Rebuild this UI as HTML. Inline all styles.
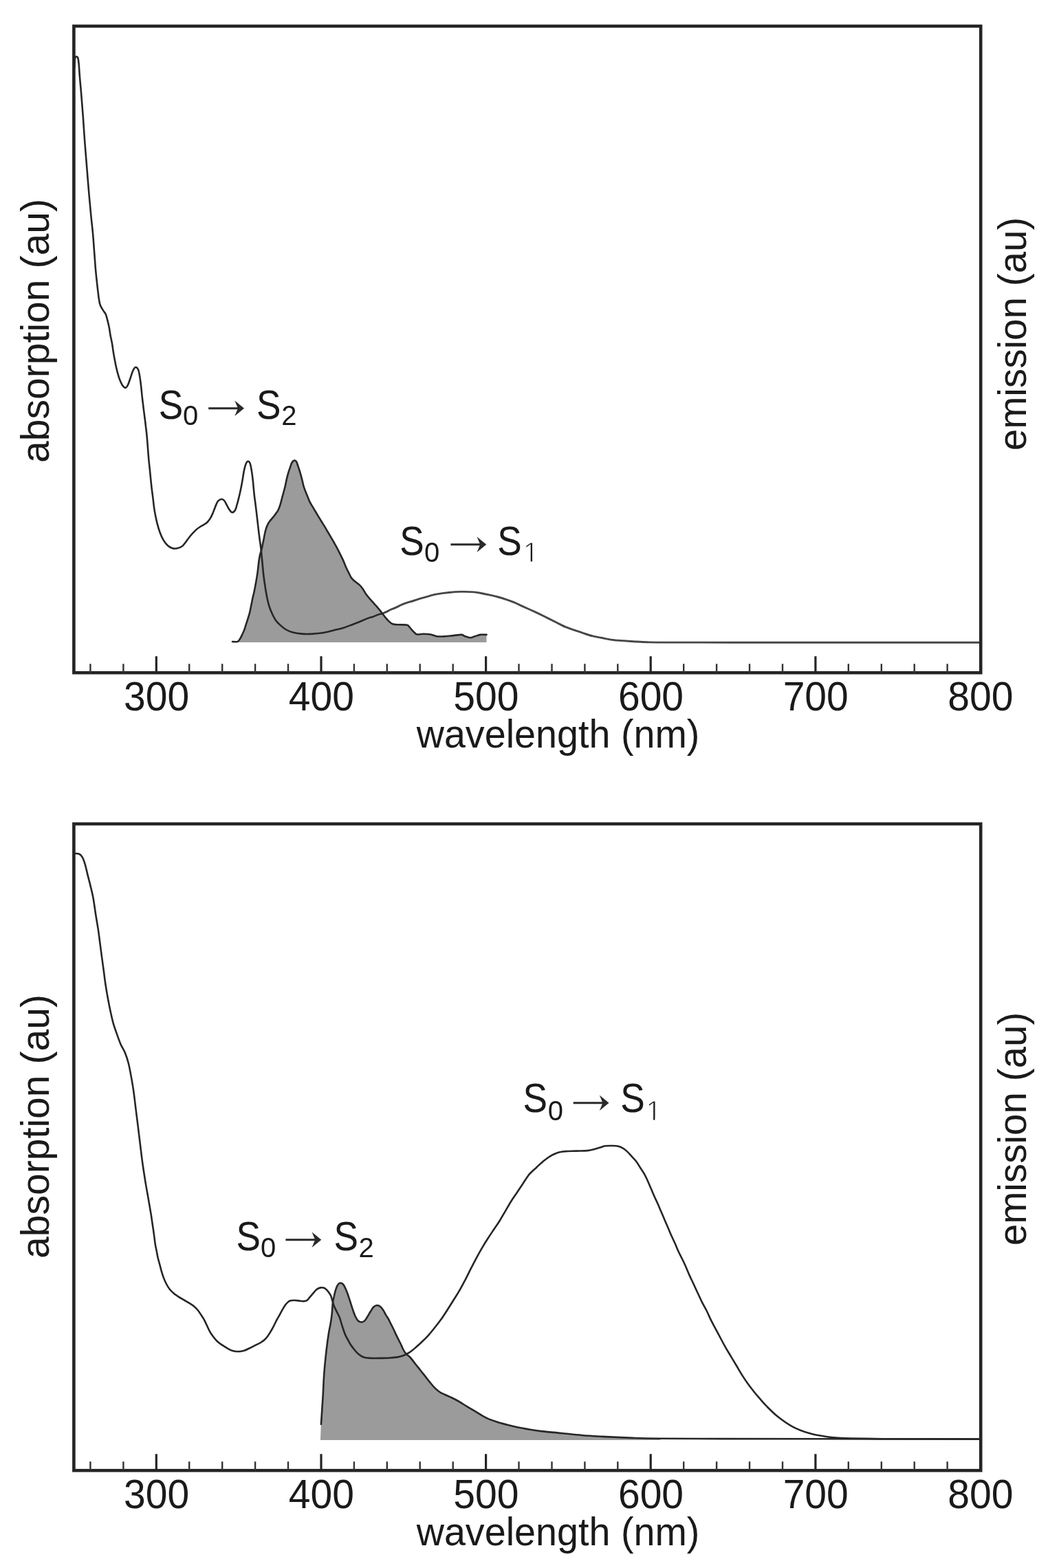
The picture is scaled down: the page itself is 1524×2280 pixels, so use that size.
<!DOCTYPE html>
<html><head><meta charset="utf-8"><title>Absorption and emission spectra</title>
<style>
html,body{margin:0;padding:0;background:#fff;}
svg{display:block;}
text{font-family:"Liberation Sans",Arial,Helvetica,sans-serif;fill:#1a1a1a;}
.tl{font-size:57px;}
.at{font-size:55.7px;}
.yl{font-size:57.1px;}
.s{font-size:56px;}
.sub{font-size:40px;}
.ar{font-size:73px;font-family:"WenQuanYi Zen Hei","Liberation Sans",sans-serif;fill:#2a2a2a;}
</style></head>
<body>
<svg width="1524" height="2280" viewBox="0 0 1524 2280">
<defs><clipPath id="clip1" clipPathUnits="userSpaceOnUse"><path d="M-20,-100H60V-3.40H12.97V10H10.63V-3.40H-20Z"/></clipPath><clipPath id="cl0"><rect x="0" y="0" width="558.0" height="1160"/></clipPath><clipPath id="cr0"><rect x="558.0" y="0" width="966.0" height="1160"/></clipPath></defs>
<rect width="1524" height="2280" fill="#fff"/>
<path d="M338.0,933.0 C339.3,933.0 343.8,933.7 345.7,932.8 C347.6,931.9 348.6,929.5 349.7,927.7 C350.8,925.9 351.5,924.2 352.4,922.2 C353.3,920.2 354.3,918.2 355.2,915.9 C356.1,913.6 356.8,911.0 357.6,908.4 C358.5,905.8 359.4,903.2 360.3,900.2 C361.2,897.2 362.4,893.5 363.1,890.7 C363.8,887.9 364.1,886.1 364.6,883.6 C365.1,881.1 365.7,878.3 366.2,875.7 C366.7,873.1 367.3,870.1 367.8,867.9 C368.3,865.6 368.5,865.3 369.2,862.2 C369.9,859.1 370.9,854.0 371.8,849.1 C372.7,844.2 373.7,838.1 374.5,832.6 C375.3,827.1 375.8,820.6 376.4,816.2 C377.0,811.8 377.5,808.8 378.2,806.0 C378.9,803.2 379.7,802.0 380.3,799.5 C380.9,797.0 381.5,793.5 382.0,791.0 C382.5,788.5 382.9,787.1 383.4,784.7 C383.9,782.3 384.3,779.3 384.9,776.7 C385.4,774.1 386.0,771.6 386.7,769.3 C387.4,766.9 388.3,764.6 389.3,762.6 C390.3,760.6 391.5,758.9 392.8,757.1 C394.1,755.4 395.8,753.8 397.1,752.1 C398.4,750.5 399.6,748.9 400.8,747.2 C402.0,745.5 403.4,744.0 404.5,741.7 C405.6,739.5 406.7,736.6 407.6,733.7 C408.5,730.8 409.2,727.6 410.0,724.5 C410.8,721.4 411.7,718.4 412.5,715.3 C413.3,712.2 414.2,709.2 414.9,706.1 C415.6,703.0 416.1,700.0 416.8,696.9 C417.5,693.8 418.4,690.4 419.2,687.6 C420.0,684.8 420.8,682.7 421.7,680.3 C422.6,677.9 423.3,674.8 424.3,673.0 C425.3,671.2 426.8,669.9 427.9,669.6 C429.0,669.3 430.1,670.0 431.0,671.2 C431.9,672.4 432.4,674.9 433.2,677.0 C433.9,679.1 434.8,681.7 435.5,684.0 C436.2,686.3 436.8,688.1 437.5,690.7 C438.2,693.3 439.1,696.6 439.8,699.5 C440.5,702.4 440.8,704.9 441.9,708.2 C443.0,711.6 444.8,715.9 446.3,719.6 C447.8,723.3 449.2,727.2 450.7,730.2 C452.2,733.2 453.6,735.1 455.1,737.6 C456.6,740.1 458.0,742.5 459.5,745.0 C461.0,747.5 462.4,750.0 463.9,752.4 C465.3,754.8 466.8,757.1 468.2,759.4 C469.6,761.7 471.1,764.0 472.6,766.4 C474.1,768.8 475.5,771.5 477.0,774.0 C478.5,776.5 479.9,778.9 481.4,781.4 C482.9,783.9 484.3,786.4 485.8,789.0 C487.3,791.6 488.7,794.0 490.2,796.8 C491.7,799.6 493.2,802.7 494.6,805.6 C496.1,808.5 497.4,811.1 498.9,814.4 C500.4,817.7 502.0,822.2 503.5,825.5 C505.0,828.8 506.5,831.6 507.7,834.0 C508.9,836.4 509.7,838.3 510.8,840.0 C511.9,841.7 513.3,842.9 514.5,844.0 C515.7,845.1 516.6,845.6 518.0,846.8 C519.4,847.9 521.5,849.4 523.1,850.9 C524.7,852.4 526.0,854.0 527.4,856.0 C528.8,858.0 530.1,860.8 531.8,863.2 C533.5,865.6 535.6,868.1 537.5,870.4 C539.4,872.7 541.4,874.7 543.3,876.9 C545.2,879.1 547.2,881.1 549.1,883.4 C551.0,885.7 553.1,888.3 554.9,890.6 C556.7,892.9 558.2,895.1 559.9,897.1 C561.6,899.1 563.2,901.2 565.0,902.9 C566.8,904.6 568.4,906.4 570.8,907.3 C573.2,908.2 575.9,908.1 579.4,908.3 C582.9,908.5 589.1,908.2 591.7,908.7 C594.4,909.2 594.0,910.3 595.3,911.6 C596.6,912.9 598.2,915.1 599.6,916.6 C601.0,918.1 602.3,919.6 603.5,920.6 C604.7,921.6 605.0,922.3 607.0,922.5 C609.0,922.7 612.5,921.7 615.7,921.7 C618.9,921.7 622.7,921.9 626.0,922.5 C629.3,923.1 631.9,924.8 635.4,925.3 C638.9,925.8 643.2,925.5 647.2,925.3 C651.2,925.1 655.2,924.5 659.1,924.1 C663.0,923.7 668.1,922.8 670.9,922.9 C673.6,923.0 673.5,924.2 675.6,924.9 C677.7,925.6 681.0,927.1 683.5,927.2 C686.0,927.3 688.1,926.0 690.6,925.3 C693.1,924.6 695.6,923.3 698.4,922.9 C701.2,922.5 706.0,922.9 707.5,922.9 L707.5,934.0 L338.0,934.0 Z" fill="#9b9b9b" stroke="none"/>
<path d="M338.0,933.0 C339.3,933.0 343.8,933.7 345.7,932.8 C347.6,931.9 348.6,929.5 349.7,927.7 C350.8,925.9 351.5,924.2 352.4,922.2 C353.3,920.2 354.3,918.2 355.2,915.9 C356.1,913.6 356.8,911.0 357.6,908.4 C358.5,905.8 359.4,903.2 360.3,900.2 C361.2,897.2 362.4,893.5 363.1,890.7 C363.8,887.9 364.1,886.1 364.6,883.6 C365.1,881.1 365.7,878.3 366.2,875.7 C366.7,873.1 367.3,870.1 367.8,867.9 C368.3,865.6 368.5,865.3 369.2,862.2 C369.9,859.1 370.9,854.0 371.8,849.1 C372.7,844.2 373.7,838.1 374.5,832.6 C375.3,827.1 375.8,820.6 376.4,816.2 C377.0,811.8 377.5,808.8 378.2,806.0 C378.9,803.2 379.7,802.0 380.3,799.5 C380.9,797.0 381.5,793.5 382.0,791.0 C382.5,788.5 382.9,787.1 383.4,784.7 C383.9,782.3 384.3,779.3 384.9,776.7 C385.4,774.1 386.0,771.6 386.7,769.3 C387.4,766.9 388.3,764.6 389.3,762.6 C390.3,760.6 391.5,758.9 392.8,757.1 C394.1,755.4 395.8,753.8 397.1,752.1 C398.4,750.5 399.6,748.9 400.8,747.2 C402.0,745.5 403.4,744.0 404.5,741.7 C405.6,739.5 406.7,736.6 407.6,733.7 C408.5,730.8 409.2,727.6 410.0,724.5 C410.8,721.4 411.7,718.4 412.5,715.3 C413.3,712.2 414.2,709.2 414.9,706.1 C415.6,703.0 416.1,700.0 416.8,696.9 C417.5,693.8 418.4,690.4 419.2,687.6 C420.0,684.8 420.8,682.7 421.7,680.3 C422.6,677.9 423.3,674.8 424.3,673.0 C425.3,671.2 426.8,669.9 427.9,669.6 C429.0,669.3 430.1,670.0 431.0,671.2 C431.9,672.4 432.4,674.9 433.2,677.0 C433.9,679.1 434.8,681.7 435.5,684.0 C436.2,686.3 436.8,688.1 437.5,690.7 C438.2,693.3 439.1,696.6 439.8,699.5 C440.5,702.4 440.8,704.9 441.9,708.2 C443.0,711.6 444.8,715.9 446.3,719.6 C447.8,723.3 449.2,727.2 450.7,730.2 C452.2,733.2 453.6,735.1 455.1,737.6 C456.6,740.1 458.0,742.5 459.5,745.0 C461.0,747.5 462.4,750.0 463.9,752.4 C465.3,754.8 466.8,757.1 468.2,759.4 C469.6,761.7 471.1,764.0 472.6,766.4 C474.1,768.8 475.5,771.5 477.0,774.0 C478.5,776.5 479.9,778.9 481.4,781.4 C482.9,783.9 484.3,786.4 485.8,789.0 C487.3,791.6 488.7,794.0 490.2,796.8 C491.7,799.6 493.2,802.7 494.6,805.6 C496.1,808.5 497.4,811.1 498.9,814.4 C500.4,817.7 502.0,822.2 503.5,825.5 C505.0,828.8 506.5,831.6 507.7,834.0 C508.9,836.4 509.7,838.3 510.8,840.0 C511.9,841.7 513.3,842.9 514.5,844.0 C515.7,845.1 516.6,845.6 518.0,846.8 C519.4,847.9 521.5,849.4 523.1,850.9 C524.7,852.4 526.0,854.0 527.4,856.0 C528.8,858.0 530.1,860.8 531.8,863.2 C533.5,865.6 535.6,868.1 537.5,870.4 C539.4,872.7 541.4,874.7 543.3,876.9 C545.2,879.1 547.2,881.1 549.1,883.4 C551.0,885.7 553.1,888.3 554.9,890.6 C556.7,892.9 558.2,895.1 559.9,897.1 C561.6,899.1 563.2,901.2 565.0,902.9 C566.8,904.6 568.4,906.4 570.8,907.3 C573.2,908.2 575.9,908.1 579.4,908.3 C582.9,908.5 589.1,908.2 591.7,908.7 C594.4,909.2 594.0,910.3 595.3,911.6 C596.6,912.9 598.2,915.1 599.6,916.6 C601.0,918.1 602.3,919.6 603.5,920.6 C604.7,921.6 605.0,922.3 607.0,922.5 C609.0,922.7 612.5,921.7 615.7,921.7 C618.9,921.7 622.7,921.9 626.0,922.5 C629.3,923.1 631.9,924.8 635.4,925.3 C638.9,925.8 643.2,925.5 647.2,925.3 C651.2,925.1 655.2,924.5 659.1,924.1 C663.0,923.7 668.1,922.8 670.9,922.9 C673.6,923.0 673.5,924.2 675.6,924.9 C677.7,925.6 681.0,927.1 683.5,927.2 C686.0,927.3 688.1,926.0 690.6,925.3 C693.1,924.6 695.6,923.3 698.4,922.9 C701.2,922.5 706.0,922.9 707.5,922.9" fill="none" stroke="#262626" stroke-width="2.6" stroke-linejoin="round" stroke-linecap="round"/>
<path d="M108.2,98.0 C108.3,96.5 108.4,91.5 108.6,89.0 C108.8,86.5 109.1,84.3 109.5,83.2 C109.9,82.1 110.7,82.2 111.2,82.2 C111.8,82.2 112.3,82.4 112.8,83.2 C113.2,84.0 113.6,85.0 113.9,87.0 C114.2,89.0 114.5,91.2 114.8,95.0 C115.1,98.8 115.2,102.7 115.8,109.5 C116.3,116.3 117.3,125.9 118.1,135.8 C118.9,145.7 119.8,156.7 120.7,168.7 C121.6,180.7 122.4,195.1 123.4,208.0 C124.4,220.9 125.5,233.3 126.5,246.0 C127.5,258.7 128.6,272.5 129.6,284.0 C130.6,295.5 131.6,305.7 132.5,315.0 C133.4,324.3 134.3,331.4 135.1,340.0 C135.9,348.6 136.4,357.5 137.1,366.3 C137.8,375.1 138.4,385.0 139.1,392.6 C139.8,400.2 140.5,406.6 141.1,412.0 C141.7,417.4 142.1,421.2 142.6,425.0 C143.1,428.8 143.3,431.4 143.8,434.5 C144.3,437.6 144.7,440.8 145.8,443.7 C146.9,446.6 148.9,449.4 150.2,451.6 C151.5,453.8 152.7,454.5 153.7,456.8 C154.7,459.1 155.4,462.2 156.3,465.6 C157.2,469.0 158.2,473.2 158.9,477.0 C159.6,480.8 160.0,484.8 160.7,488.4 C161.4,492.0 162.2,495.2 162.9,498.9 C163.6,502.6 164.0,506.7 164.6,510.4 C165.2,514.1 165.7,517.2 166.4,520.9 C167.1,524.5 167.8,528.6 168.6,532.3 C169.4,535.9 170.2,539.4 171.2,542.8 C172.1,546.2 173.1,549.6 174.3,552.5 C175.5,555.4 176.8,558.5 178.2,560.4 C179.6,562.3 181.3,564.0 182.6,563.9 C183.9,563.8 184.9,561.9 186.1,559.5 C187.3,557.1 188.4,553.2 189.6,549.8 C190.8,546.4 191.9,541.9 193.2,539.3 C194.4,536.7 195.8,534.3 197.1,534.0 C198.4,533.7 200.0,535.3 201.0,537.5 C202.0,539.7 202.5,543.4 203.2,547.2 C203.9,551.0 204.4,555.3 205.0,560.4 C205.6,565.5 206.2,572.1 206.8,577.9 C207.5,583.7 208.2,590.0 208.9,595.4 C209.6,600.8 210.2,605.6 210.8,610.0 C211.4,614.4 211.8,618.5 212.2,622.0 C212.6,625.5 212.9,627.1 213.3,631.0 C213.7,634.9 214.0,639.1 214.5,645.1 C215.0,651.1 215.6,660.4 216.2,667.0 C216.8,673.6 217.3,678.0 218.0,684.6 C218.7,691.2 219.5,699.9 220.2,706.5 C220.9,713.1 221.7,718.1 222.4,724.0 C223.1,729.9 223.7,735.8 224.6,741.6 C225.5,747.5 226.8,753.7 228.1,759.1 C229.4,764.5 230.9,769.6 232.5,774.0 C234.1,778.4 235.8,782.2 237.7,785.4 C239.6,788.6 241.7,791.3 243.9,793.3 C246.1,795.3 248.6,796.6 250.9,797.3 C253.2,798.0 255.6,797.8 257.9,797.3 C260.2,796.8 262.8,795.7 264.9,794.2 C266.9,792.7 268.4,790.3 270.2,788.1 C271.9,785.9 273.6,783.2 275.4,781.0 C277.1,778.8 278.9,776.8 280.7,774.9 C282.5,773.0 284.3,771.1 286.0,769.6 C287.7,768.1 289.2,767.1 291.0,766.0 C292.8,764.9 294.8,764.1 296.6,762.9 C298.4,761.7 300.3,760.5 301.8,759.0 C303.3,757.5 304.6,755.7 305.8,753.7 C307.0,751.7 308.1,749.3 309.1,747.1 C310.1,744.9 310.8,742.7 311.7,740.5 C312.6,738.3 313.4,735.9 314.3,733.9 C315.2,731.9 315.7,730.1 317.0,728.7 C318.3,727.3 320.7,725.8 322.2,725.7 C323.7,725.6 325.0,726.6 326.2,728.0 C327.4,729.4 328.4,731.9 329.5,733.9 C330.6,735.9 331.5,738.0 332.8,739.9 C334.1,741.8 335.9,744.8 337.4,745.1 C338.9,745.4 340.8,743.7 342.0,741.8 C343.2,739.9 343.7,736.8 344.6,733.9 C345.5,731.0 346.4,727.4 347.2,724.1 C348.0,720.8 348.8,717.5 349.5,714.2 C350.2,710.9 350.9,707.6 351.5,704.3 C352.1,701.0 352.6,698.0 353.2,694.5 C353.8,691.0 354.3,686.7 355.1,683.3 C355.9,679.9 356.9,676.2 357.8,674.1 C358.7,672.0 359.7,670.8 360.7,670.8 C361.7,670.8 362.9,672.0 363.7,674.1 C364.5,676.2 365.1,679.9 365.7,683.3 C366.3,686.7 366.8,690.5 367.3,694.5 C367.8,698.5 368.2,703.2 368.6,707.6 C369.0,712.0 369.4,716.4 369.9,720.8 C370.4,725.2 371.0,729.0 371.6,733.9 C372.2,738.8 373.0,744.9 373.6,750.4 C374.2,755.9 374.9,761.3 375.5,766.8 C376.1,772.3 376.8,778.1 377.5,783.3 C378.2,788.5 378.9,792.5 379.5,798.0 C380.1,803.5 380.7,809.8 381.3,816.0 C381.9,822.2 382.4,828.9 383.1,835.0 C383.8,841.1 384.6,846.9 385.5,852.5 C386.4,858.1 387.3,863.9 388.3,868.8 C389.3,873.7 390.4,878.2 391.6,882.0 C392.8,885.8 394.0,888.5 395.5,891.8 C397.0,895.1 398.8,898.9 400.8,901.7 C402.8,904.6 404.9,906.6 407.4,908.9 C409.9,911.2 412.8,913.7 415.9,915.5 C419.0,917.3 422.0,918.5 425.8,919.5 C429.6,920.5 434.8,921.2 438.9,921.6 C443.0,922.0 446.8,922.0 450.7,921.9 C454.6,921.8 458.6,921.4 462.5,921.0 C466.4,920.6 470.4,920.1 474.3,919.3 C478.2,918.5 482.2,917.3 486.1,916.3 C490.0,915.3 494.0,914.6 497.9,913.4 C501.8,912.2 506.0,910.6 509.7,909.2 C513.4,907.9 516.8,906.6 520.0,905.3 C523.2,904.0 526.2,902.6 528.9,901.5 C531.6,900.4 533.7,899.5 536.1,898.6 C538.5,897.8 540.9,897.2 543.3,896.4 C545.7,895.5 548.3,894.2 550.5,893.5 C552.7,892.8 554.5,892.7 556.3,892.1 C558.1,891.5 559.3,890.9 561.4,889.9 C563.5,888.9 566.2,887.4 568.6,886.3 C571.0,885.2 573.4,884.5 575.8,883.4 C578.2,882.3 580.6,880.9 583.0,879.8 C585.4,878.7 587.5,877.9 590.3,876.9 C593.1,875.9 596.4,875.1 600.0,874.0 C603.6,872.9 607.9,871.4 611.8,870.2 C615.7,869.0 619.7,867.8 623.6,866.8 C627.5,865.8 630.5,864.8 635.4,863.9 C640.3,863.0 647.2,862.1 653.1,861.5 C659.0,860.9 665.0,860.5 670.9,860.4 C676.8,860.3 683.7,860.5 688.6,860.9 C693.5,861.3 696.5,862.0 700.4,862.7 C704.3,863.4 708.3,864.2 712.2,865.1 C716.1,866.0 720.1,866.9 724.0,868.0 C727.9,869.1 731.9,870.3 735.8,871.6 C739.7,872.9 743.7,874.3 747.6,875.9 C751.5,877.5 755.5,879.6 759.4,881.4 C763.3,883.2 767.3,884.9 771.3,886.7 C775.2,888.5 779.0,890.1 783.1,892.1 C787.2,894.1 791.8,896.4 796.2,898.6 C800.6,900.8 805.0,903.0 809.4,905.2 C813.8,907.4 818.1,909.9 822.5,911.7 C826.9,913.6 831.2,914.8 835.6,916.3 C840.0,917.8 844.3,919.5 848.7,920.9 C853.1,922.3 857.5,923.8 861.9,924.9 C866.3,926.0 870.6,926.6 875.0,927.5 C879.4,928.4 883.7,929.5 888.1,930.1 C892.5,930.8 895.7,931.0 901.2,931.4 C906.7,931.8 914.3,932.3 920.9,932.7 C927.5,933.1 932.4,933.6 940.6,933.8 C948.8,934.0 943.4,934.0 970.0,934.1 C996.6,934.2 1053.3,934.2 1100.0,934.2 C1146.7,934.2 1196.0,934.2 1250.0,934.2 C1304.0,934.2 1395.0,934.2 1424.0,934.2" fill="none" stroke="#262626" stroke-width="2.6" stroke-linejoin="round" stroke-linecap="round" clip-path="url(#cl0)"/>
<path d="M108.2,98.0 C108.3,96.5 108.4,91.5 108.6,89.0 C108.8,86.5 109.1,84.3 109.5,83.2 C109.9,82.1 110.7,82.2 111.2,82.2 C111.8,82.2 112.3,82.4 112.8,83.2 C113.2,84.0 113.6,85.0 113.9,87.0 C114.2,89.0 114.5,91.2 114.8,95.0 C115.1,98.8 115.2,102.7 115.8,109.5 C116.3,116.3 117.3,125.9 118.1,135.8 C118.9,145.7 119.8,156.7 120.7,168.7 C121.6,180.7 122.4,195.1 123.4,208.0 C124.4,220.9 125.5,233.3 126.5,246.0 C127.5,258.7 128.6,272.5 129.6,284.0 C130.6,295.5 131.6,305.7 132.5,315.0 C133.4,324.3 134.3,331.4 135.1,340.0 C135.9,348.6 136.4,357.5 137.1,366.3 C137.8,375.1 138.4,385.0 139.1,392.6 C139.8,400.2 140.5,406.6 141.1,412.0 C141.7,417.4 142.1,421.2 142.6,425.0 C143.1,428.8 143.3,431.4 143.8,434.5 C144.3,437.6 144.7,440.8 145.8,443.7 C146.9,446.6 148.9,449.4 150.2,451.6 C151.5,453.8 152.7,454.5 153.7,456.8 C154.7,459.1 155.4,462.2 156.3,465.6 C157.2,469.0 158.2,473.2 158.9,477.0 C159.6,480.8 160.0,484.8 160.7,488.4 C161.4,492.0 162.2,495.2 162.9,498.9 C163.6,502.6 164.0,506.7 164.6,510.4 C165.2,514.1 165.7,517.2 166.4,520.9 C167.1,524.5 167.8,528.6 168.6,532.3 C169.4,535.9 170.2,539.4 171.2,542.8 C172.1,546.2 173.1,549.6 174.3,552.5 C175.5,555.4 176.8,558.5 178.2,560.4 C179.6,562.3 181.3,564.0 182.6,563.9 C183.9,563.8 184.9,561.9 186.1,559.5 C187.3,557.1 188.4,553.2 189.6,549.8 C190.8,546.4 191.9,541.9 193.2,539.3 C194.4,536.7 195.8,534.3 197.1,534.0 C198.4,533.7 200.0,535.3 201.0,537.5 C202.0,539.7 202.5,543.4 203.2,547.2 C203.9,551.0 204.4,555.3 205.0,560.4 C205.6,565.5 206.2,572.1 206.8,577.9 C207.5,583.7 208.2,590.0 208.9,595.4 C209.6,600.8 210.2,605.6 210.8,610.0 C211.4,614.4 211.8,618.5 212.2,622.0 C212.6,625.5 212.9,627.1 213.3,631.0 C213.7,634.9 214.0,639.1 214.5,645.1 C215.0,651.1 215.6,660.4 216.2,667.0 C216.8,673.6 217.3,678.0 218.0,684.6 C218.7,691.2 219.5,699.9 220.2,706.5 C220.9,713.1 221.7,718.1 222.4,724.0 C223.1,729.9 223.7,735.8 224.6,741.6 C225.5,747.5 226.8,753.7 228.1,759.1 C229.4,764.5 230.9,769.6 232.5,774.0 C234.1,778.4 235.8,782.2 237.7,785.4 C239.6,788.6 241.7,791.3 243.9,793.3 C246.1,795.3 248.6,796.6 250.9,797.3 C253.2,798.0 255.6,797.8 257.9,797.3 C260.2,796.8 262.8,795.7 264.9,794.2 C266.9,792.7 268.4,790.3 270.2,788.1 C271.9,785.9 273.6,783.2 275.4,781.0 C277.1,778.8 278.9,776.8 280.7,774.9 C282.5,773.0 284.3,771.1 286.0,769.6 C287.7,768.1 289.2,767.1 291.0,766.0 C292.8,764.9 294.8,764.1 296.6,762.9 C298.4,761.7 300.3,760.5 301.8,759.0 C303.3,757.5 304.6,755.7 305.8,753.7 C307.0,751.7 308.1,749.3 309.1,747.1 C310.1,744.9 310.8,742.7 311.7,740.5 C312.6,738.3 313.4,735.9 314.3,733.9 C315.2,731.9 315.7,730.1 317.0,728.7 C318.3,727.3 320.7,725.8 322.2,725.7 C323.7,725.6 325.0,726.6 326.2,728.0 C327.4,729.4 328.4,731.9 329.5,733.9 C330.6,735.9 331.5,738.0 332.8,739.9 C334.1,741.8 335.9,744.8 337.4,745.1 C338.9,745.4 340.8,743.7 342.0,741.8 C343.2,739.9 343.7,736.8 344.6,733.9 C345.5,731.0 346.4,727.4 347.2,724.1 C348.0,720.8 348.8,717.5 349.5,714.2 C350.2,710.9 350.9,707.6 351.5,704.3 C352.1,701.0 352.6,698.0 353.2,694.5 C353.8,691.0 354.3,686.7 355.1,683.3 C355.9,679.9 356.9,676.2 357.8,674.1 C358.7,672.0 359.7,670.8 360.7,670.8 C361.7,670.8 362.9,672.0 363.7,674.1 C364.5,676.2 365.1,679.9 365.7,683.3 C366.3,686.7 366.8,690.5 367.3,694.5 C367.8,698.5 368.2,703.2 368.6,707.6 C369.0,712.0 369.4,716.4 369.9,720.8 C370.4,725.2 371.0,729.0 371.6,733.9 C372.2,738.8 373.0,744.9 373.6,750.4 C374.2,755.9 374.9,761.3 375.5,766.8 C376.1,772.3 376.8,778.1 377.5,783.3 C378.2,788.5 378.9,792.5 379.5,798.0 C380.1,803.5 380.7,809.8 381.3,816.0 C381.9,822.2 382.4,828.9 383.1,835.0 C383.8,841.1 384.6,846.9 385.5,852.5 C386.4,858.1 387.3,863.9 388.3,868.8 C389.3,873.7 390.4,878.2 391.6,882.0 C392.8,885.8 394.0,888.5 395.5,891.8 C397.0,895.1 398.8,898.9 400.8,901.7 C402.8,904.6 404.9,906.6 407.4,908.9 C409.9,911.2 412.8,913.7 415.9,915.5 C419.0,917.3 422.0,918.5 425.8,919.5 C429.6,920.5 434.8,921.2 438.9,921.6 C443.0,922.0 446.8,922.0 450.7,921.9 C454.6,921.8 458.6,921.4 462.5,921.0 C466.4,920.6 470.4,920.1 474.3,919.3 C478.2,918.5 482.2,917.3 486.1,916.3 C490.0,915.3 494.0,914.6 497.9,913.4 C501.8,912.2 506.0,910.6 509.7,909.2 C513.4,907.9 516.8,906.6 520.0,905.3 C523.2,904.0 526.2,902.6 528.9,901.5 C531.6,900.4 533.7,899.5 536.1,898.6 C538.5,897.8 540.9,897.2 543.3,896.4 C545.7,895.5 548.3,894.2 550.5,893.5 C552.7,892.8 554.5,892.7 556.3,892.1 C558.1,891.5 559.3,890.9 561.4,889.9 C563.5,888.9 566.2,887.4 568.6,886.3 C571.0,885.2 573.4,884.5 575.8,883.4 C578.2,882.3 580.6,880.9 583.0,879.8 C585.4,878.7 587.5,877.9 590.3,876.9 C593.1,875.9 596.4,875.1 600.0,874.0 C603.6,872.9 607.9,871.4 611.8,870.2 C615.7,869.0 619.7,867.8 623.6,866.8 C627.5,865.8 630.5,864.8 635.4,863.9 C640.3,863.0 647.2,862.1 653.1,861.5 C659.0,860.9 665.0,860.5 670.9,860.4 C676.8,860.3 683.7,860.5 688.6,860.9 C693.5,861.3 696.5,862.0 700.4,862.7 C704.3,863.4 708.3,864.2 712.2,865.1 C716.1,866.0 720.1,866.9 724.0,868.0 C727.9,869.1 731.9,870.3 735.8,871.6 C739.7,872.9 743.7,874.3 747.6,875.9 C751.5,877.5 755.5,879.6 759.4,881.4 C763.3,883.2 767.3,884.9 771.3,886.7 C775.2,888.5 779.0,890.1 783.1,892.1 C787.2,894.1 791.8,896.4 796.2,898.6 C800.6,900.8 805.0,903.0 809.4,905.2 C813.8,907.4 818.1,909.9 822.5,911.7 C826.9,913.6 831.2,914.8 835.6,916.3 C840.0,917.8 844.3,919.5 848.7,920.9 C853.1,922.3 857.5,923.8 861.9,924.9 C866.3,926.0 870.6,926.6 875.0,927.5 C879.4,928.4 883.7,929.5 888.1,930.1 C892.5,930.8 895.7,931.0 901.2,931.4 C906.7,931.8 914.3,932.3 920.9,932.7 C927.5,933.1 932.4,933.6 940.6,933.8 C948.8,934.0 943.4,934.0 970.0,934.1 C996.6,934.2 1053.3,934.2 1100.0,934.2 C1146.7,934.2 1196.0,934.2 1250.0,934.2 C1304.0,934.2 1395.0,934.2 1424.0,934.2" fill="none" stroke="#474747" stroke-width="2.9" stroke-linejoin="round" stroke-linecap="round" clip-path="url(#cr0)"/>
<rect x="107.4" y="38.0" width="1318.8" height="940.2" fill="none" stroke="#242424" stroke-width="4.6"/>
<path d="M227.3,978.2V954.2 M467.0,978.2V954.2 M706.6,978.2V954.2 M946.2,978.2V954.2 M1185.9,978.2V954.2" stroke="#242424" stroke-width="3.2" fill="none"/>
<path d="M131.4,978.2V965.2 M179.4,978.2V965.2 M275.2,978.2V965.2 M323.2,978.2V965.2 M371.1,978.2V965.2 M419.0,978.2V965.2 M514.9,978.2V965.2 M562.8,978.2V965.2 M610.7,978.2V965.2 M658.7,978.2V965.2 M754.5,978.2V965.2 M802.5,978.2V965.2 M850.4,978.2V965.2 M898.3,978.2V965.2 M994.2,978.2V965.2 M1042.1,978.2V965.2 M1090.0,978.2V965.2 M1138.0,978.2V965.2 M1233.8,978.2V965.2 M1281.8,978.2V965.2 M1329.7,978.2V965.2 M1377.6,978.2V965.2" stroke="#333" stroke-width="2.4" fill="none"/>
<text x="0.0" y="0.0" class="tl" text-anchor="middle" transform="translate(227.6,1033.0) scale(1,1.040) translate(0.0,0.0)">300</text>
<text x="0.0" y="0.0" class="tl" text-anchor="middle" transform="translate(467.3,1033.0) scale(1,1.040) translate(0.0,0.0)">400</text>
<text x="0.0" y="0.0" class="tl" text-anchor="middle" transform="translate(706.9,1033.0) scale(1,1.040) translate(0.0,0.0)">500</text>
<text x="0.0" y="0.0" class="tl" text-anchor="middle" transform="translate(946.5,1033.0) scale(1,1.040) translate(0.0,0.0)">600</text>
<text x="0.0" y="0.0" class="tl" text-anchor="middle" transform="translate(1186.2,1033.0) scale(1,1.040) translate(0.0,0.0)">700</text>
<text x="0.0" y="0.0" class="tl" text-anchor="middle" transform="translate(1425.8,1033.0) scale(1,1.040) translate(0.0,0.0)">800</text>
<text class="at" text-anchor="middle" transform="translate(811.5,1086.8) scale(1,1.045)">wavelength (nm)</text>
<text class="yl" text-anchor="middle" transform="translate(70.7,481.0) rotate(-90)">absorption (au)</text>
<text class="yl" text-anchor="middle" style="font-size:56.6px" transform="translate(1491.9,485.5) rotate(-90)">emission (au)</text>
<text class="s" transform="translate(230.8,608.7) scale(0.950,1.055)">S</text>
<text class="sub" transform="translate(265.9,618.2) scale(1,1.000)">0</text>
<text class="ar" transform="translate(299.1,620.4) scale(0.825,1)">&#8594;</text>
<text class="s" transform="translate(373.1,608.7) scale(0.950,1.055)">S</text>
<text class="sub" transform="translate(409.2,618.2) scale(1,1.000)">2</text>
<text class="s" transform="translate(581.3,807.2) scale(0.950,1.055)">S</text>
<text class="sub" transform="translate(616.9,817.0) scale(1,1.000)">0</text>
<text class="ar" transform="translate(651.3,817.5) scale(0.825,1)">&#8594;</text>
<text class="s" transform="translate(723.3,807.2) scale(0.950,1.055)">S</text>
<text class="sub" clip-path="url(#clip1)" stroke="#fff" stroke-width="1.1" transform="translate(761.1,817.0) scale(1,1.000)">1</text>
<path d="M466.0,2094.0 C466.1,2090.2 466.5,2079.2 466.9,2071.0 C467.3,2062.8 468.2,2051.8 468.6,2045.0 C469.1,2038.2 469.1,2038.3 469.6,2030.0 C470.1,2021.7 470.6,2006.3 471.5,1995.0 C472.4,1983.7 473.7,1971.5 474.8,1962.0 C475.9,1952.5 477.1,1944.2 478.1,1938.0 C479.1,1931.8 479.9,1929.5 480.6,1925.0 C481.4,1920.5 482.1,1915.9 482.6,1910.8 C483.2,1905.7 483.3,1898.8 483.9,1894.4 C484.4,1890.0 485.2,1887.5 485.9,1884.5 C486.5,1881.5 487.0,1879.2 487.8,1876.7 C488.6,1874.2 489.4,1871.3 490.5,1869.4 C491.6,1867.5 493.0,1865.8 494.4,1865.5 C495.8,1865.2 497.7,1866.2 499.0,1867.5 C500.3,1868.8 501.2,1871.1 502.3,1873.4 C503.4,1875.7 504.4,1878.2 505.6,1881.5 C506.8,1884.8 508.1,1889.2 509.4,1893.0 C510.6,1896.8 511.9,1901.0 513.1,1904.5 C514.3,1908.0 515.4,1911.3 516.7,1914.0 C518.0,1916.7 519.5,1919.4 521.0,1920.8 C522.5,1922.2 524.4,1922.6 526.0,1922.5 C527.6,1922.4 528.9,1921.8 530.4,1920.4 C531.9,1919.0 533.3,1916.2 534.7,1913.9 C536.1,1911.6 537.5,1909.0 539.0,1906.7 C540.5,1904.4 541.8,1901.7 543.4,1900.2 C545.0,1898.8 546.7,1898.0 548.4,1898.0 C550.1,1898.0 551.9,1898.9 553.5,1900.2 C555.1,1901.5 556.5,1903.9 557.8,1905.9 C559.1,1907.9 560.2,1910.4 561.4,1912.4 C562.6,1914.5 563.8,1916.0 565.0,1918.2 C566.2,1920.4 567.4,1923.0 568.6,1925.4 C569.8,1927.8 571.1,1930.2 572.3,1932.7 C573.5,1935.2 574.7,1938.1 575.9,1940.6 C577.1,1943.1 578.3,1945.4 579.5,1947.8 C580.7,1950.2 582.0,1952.7 583.1,1955.0 C584.2,1957.3 585.0,1959.6 586.0,1961.5 C587.0,1963.4 587.9,1965.2 588.9,1966.6 C589.9,1968.0 590.5,1968.6 591.8,1969.8 C593.1,1971.0 594.7,1971.7 596.8,1974.0 C598.9,1976.3 601.7,1980.4 604.2,1983.5 C606.7,1986.6 609.2,1989.6 611.6,1992.7 C614.0,1995.8 616.6,1999.0 618.9,2001.9 C621.2,2004.8 623.2,2007.6 625.4,2010.2 C627.5,2012.8 629.5,2015.3 631.8,2017.6 C634.1,2019.9 636.7,2022.3 639.2,2024.0 C641.7,2025.7 644.0,2026.5 646.6,2027.7 C649.2,2028.9 652.0,2030.0 654.9,2031.4 C657.8,2032.8 661.0,2034.3 664.1,2036.0 C667.2,2037.7 670.2,2039.7 673.3,2041.5 C676.4,2043.3 679.4,2045.2 682.5,2047.1 C685.6,2048.9 687.4,2050.0 691.7,2052.6 C696.1,2055.2 702.5,2059.6 708.6,2062.4 C714.7,2065.2 721.7,2067.3 728.3,2069.3 C734.9,2071.3 741.5,2072.7 748.0,2074.2 C754.5,2075.7 761.1,2076.9 767.6,2078.1 C774.1,2079.2 779.1,2080.1 787.3,2081.1 C795.5,2082.1 807.0,2083.0 816.9,2084.0 C826.8,2085.0 836.6,2086.2 846.4,2087.0 C856.2,2087.8 863.6,2088.2 875.9,2088.9 C888.2,2089.6 906.0,2090.4 920.0,2090.9 C934.0,2091.4 953.3,2091.7 960.0,2091.8 L960.0,2094.0 L466.0,2094.0 Z" fill="#9b9b9b" stroke="none"/>
<path d="M466.9,2071.0 C467.2,2066.7 468.2,2051.8 468.6,2045.0 C469.1,2038.2 469.1,2038.3 469.6,2030.0 C470.1,2021.7 470.6,2006.3 471.5,1995.0 C472.4,1983.7 473.7,1971.5 474.8,1962.0 C475.9,1952.5 477.1,1944.2 478.1,1938.0 C479.1,1931.8 479.9,1929.5 480.6,1925.0 C481.4,1920.5 482.1,1915.9 482.6,1910.8 C483.2,1905.7 483.3,1898.8 483.9,1894.4 C484.4,1890.0 485.2,1887.5 485.9,1884.5 C486.5,1881.5 487.0,1879.2 487.8,1876.7 C488.6,1874.2 489.4,1871.3 490.5,1869.4 C491.6,1867.5 493.0,1865.8 494.4,1865.5 C495.8,1865.2 497.7,1866.2 499.0,1867.5 C500.3,1868.8 501.2,1871.1 502.3,1873.4 C503.4,1875.7 504.4,1878.2 505.6,1881.5 C506.8,1884.8 508.1,1889.2 509.4,1893.0 C510.6,1896.8 511.9,1901.0 513.1,1904.5 C514.3,1908.0 515.4,1911.3 516.7,1914.0 C518.0,1916.7 519.5,1919.4 521.0,1920.8 C522.5,1922.2 524.4,1922.6 526.0,1922.5 C527.6,1922.4 528.9,1921.8 530.4,1920.4 C531.9,1919.0 533.3,1916.2 534.7,1913.9 C536.1,1911.6 537.5,1909.0 539.0,1906.7 C540.5,1904.4 541.8,1901.7 543.4,1900.2 C545.0,1898.8 546.7,1898.0 548.4,1898.0 C550.1,1898.0 551.9,1898.9 553.5,1900.2 C555.1,1901.5 556.5,1903.9 557.8,1905.9 C559.1,1907.9 560.2,1910.4 561.4,1912.4 C562.6,1914.5 563.8,1916.0 565.0,1918.2 C566.2,1920.4 567.4,1923.0 568.6,1925.4 C569.8,1927.8 571.1,1930.2 572.3,1932.7 C573.5,1935.2 574.7,1938.1 575.9,1940.6 C577.1,1943.1 578.3,1945.4 579.5,1947.8 C580.7,1950.2 582.0,1952.7 583.1,1955.0 C584.2,1957.3 585.0,1959.6 586.0,1961.5 C587.0,1963.4 587.9,1965.2 588.9,1966.6 C589.9,1968.0 590.5,1968.6 591.8,1969.8 C593.1,1971.0 594.7,1971.7 596.8,1974.0 C598.9,1976.3 601.7,1980.4 604.2,1983.5 C606.7,1986.6 609.2,1989.6 611.6,1992.7 C614.0,1995.8 616.6,1999.0 618.9,2001.9 C621.2,2004.8 623.2,2007.6 625.4,2010.2 C627.5,2012.8 629.5,2015.3 631.8,2017.6 C634.1,2019.9 636.7,2022.3 639.2,2024.0 C641.7,2025.7 644.0,2026.5 646.6,2027.7 C649.2,2028.9 652.0,2030.0 654.9,2031.4 C657.8,2032.8 661.0,2034.3 664.1,2036.0 C667.2,2037.7 670.2,2039.7 673.3,2041.5 C676.4,2043.3 679.4,2045.2 682.5,2047.1 C685.6,2048.9 687.4,2050.0 691.7,2052.6 C696.1,2055.2 702.5,2059.6 708.6,2062.4 C714.7,2065.2 721.7,2067.3 728.3,2069.3 C734.9,2071.3 741.5,2072.7 748.0,2074.2 C754.5,2075.7 761.1,2076.9 767.6,2078.1 C774.1,2079.2 779.1,2080.1 787.3,2081.1 C795.5,2082.1 807.0,2083.0 816.9,2084.0 C826.8,2085.0 836.6,2086.2 846.4,2087.0 C856.2,2087.8 863.6,2088.2 875.9,2088.9 C888.2,2089.6 906.0,2090.4 920.0,2090.9 C934.0,2091.4 938.3,2091.6 960.0,2091.8 C981.7,2092.0 1010.0,2092.0 1050.0,2092.1 C1090.0,2092.2 1137.7,2092.2 1200.0,2092.3 C1262.3,2092.4 1386.7,2092.5 1424.0,2092.5" fill="none" stroke="#262626" stroke-width="2.6" stroke-linejoin="round" stroke-linecap="round"/>
<path d="M107.9,1241.0 C109.1,1241.1 113.1,1240.8 115.1,1241.7 C117.1,1242.6 118.3,1243.8 119.7,1246.3 C121.1,1248.8 122.4,1252.4 123.7,1256.8 C125.0,1261.2 126.3,1267.3 127.6,1272.6 C128.9,1277.9 130.3,1282.9 131.6,1288.4 C132.9,1293.9 134.2,1298.3 135.5,1305.5 C136.8,1312.7 138.3,1324.1 139.5,1331.8 C140.7,1339.5 141.8,1345.0 142.8,1351.6 C143.8,1358.2 144.5,1364.7 145.4,1371.3 C146.3,1377.9 147.1,1384.5 148.0,1391.1 C148.9,1397.7 149.8,1404.2 150.7,1410.8 C151.6,1417.4 152.3,1423.9 153.3,1430.5 C154.3,1437.1 155.4,1443.7 156.6,1450.3 C157.8,1456.9 159.2,1463.9 160.5,1470.0 C161.8,1476.1 163.0,1481.6 164.5,1487.1 C166.0,1492.6 167.9,1497.7 169.7,1502.9 C171.5,1508.1 173.5,1513.9 175.5,1518.5 C177.5,1523.1 179.7,1525.7 181.6,1530.3 C183.5,1534.9 185.3,1540.1 186.8,1546.0 C188.3,1551.9 189.6,1559.2 190.8,1565.8 C192.0,1572.4 193.0,1577.8 194.1,1585.5 C195.2,1593.2 196.3,1603.0 197.4,1611.8 C198.5,1620.6 199.6,1629.4 200.7,1638.2 C201.8,1647.0 202.8,1655.7 203.9,1664.5 C205.0,1673.3 206.0,1682.0 207.2,1690.8 C208.4,1699.6 209.8,1708.3 211.2,1717.1 C212.6,1725.9 214.4,1735.4 215.8,1743.4 C217.2,1751.4 218.4,1758.3 219.5,1765.0 C220.6,1771.7 221.4,1778.1 222.2,1783.3 C223.0,1788.5 223.5,1792.0 224.1,1796.4 C224.7,1800.8 225.2,1805.8 225.8,1809.6 C226.4,1813.4 227.2,1816.2 227.8,1819.5 C228.5,1822.8 228.9,1826.0 229.7,1829.3 C230.5,1832.6 231.5,1835.9 232.4,1839.2 C233.3,1842.5 234.0,1845.8 235.0,1849.1 C236.0,1852.4 237.1,1855.8 238.3,1858.9 C239.5,1862.0 240.8,1864.9 242.2,1867.5 C243.6,1870.1 245.0,1872.5 246.8,1874.7 C248.6,1876.9 250.6,1878.8 252.8,1880.7 C255.0,1882.6 257.5,1884.3 260.0,1885.9 C262.5,1887.5 265.3,1889.0 267.9,1890.5 C270.5,1892.0 273.4,1893.6 275.8,1895.1 C278.2,1896.6 280.4,1898.0 282.4,1899.7 C284.4,1901.4 286.0,1903.0 287.6,1905.0 C289.2,1907.0 290.7,1909.3 292.2,1911.6 C293.7,1913.9 295.4,1916.3 296.8,1918.8 C298.2,1921.3 299.1,1923.6 300.5,1926.5 C301.9,1929.4 303.6,1933.4 305.2,1936.3 C306.8,1939.2 308.5,1941.6 310.4,1944.0 C312.2,1946.4 314.2,1948.8 316.3,1950.8 C318.4,1952.8 320.8,1954.3 323.2,1955.9 C325.6,1957.5 328.4,1959.2 330.8,1960.6 C333.2,1961.9 335.1,1963.2 337.7,1964.0 C340.3,1964.8 343.4,1965.3 346.2,1965.3 C349.0,1965.3 351.8,1964.8 354.7,1964.0 C357.6,1963.2 360.4,1961.5 363.3,1960.2 C366.2,1958.9 369.2,1957.2 371.8,1955.9 C374.4,1954.6 376.5,1953.8 378.6,1952.5 C380.7,1951.2 382.8,1950.0 384.6,1948.3 C386.5,1946.6 388.1,1944.4 389.7,1942.3 C391.3,1940.2 392.6,1937.9 394.0,1935.5 C395.4,1933.1 396.8,1930.5 398.2,1927.8 C399.6,1925.1 401.1,1921.9 402.5,1919.2 C403.9,1916.5 405.4,1914.1 406.8,1911.6 C408.2,1909.0 409.6,1906.3 411.0,1903.9 C412.4,1901.5 414.1,1898.8 415.3,1897.1 C416.5,1895.4 417.3,1894.7 418.3,1893.8 C419.3,1892.9 419.9,1892.1 421.5,1891.6 C423.1,1891.1 425.9,1890.8 428.1,1890.8 C430.3,1890.8 432.5,1891.2 434.7,1891.4 C436.9,1891.6 439.2,1892.2 441.2,1892.1 C443.2,1892.0 445.1,1891.6 446.5,1890.8 C447.9,1890.0 448.7,1888.5 449.8,1887.2 C450.9,1885.9 451.9,1884.6 453.1,1883.2 C454.3,1881.8 455.7,1880.0 457.0,1878.6 C458.3,1877.2 459.4,1875.7 460.9,1874.7 C462.4,1873.7 464.4,1872.7 466.2,1872.4 C467.9,1872.1 469.9,1872.1 471.4,1872.7 C472.9,1873.3 474.2,1874.8 475.4,1876.0 C476.6,1877.2 477.6,1878.5 478.6,1879.9 C479.6,1881.3 480.5,1882.5 481.3,1884.5 C482.1,1886.5 482.6,1889.2 483.4,1891.7 C484.2,1894.2 484.9,1896.9 485.9,1899.3 C486.8,1901.7 488.1,1904.2 489.1,1906.2 C490.1,1908.2 490.9,1909.6 491.8,1911.4 C492.7,1913.2 493.5,1914.7 494.4,1917.3 C495.3,1919.9 496.2,1923.9 497.2,1926.9 C498.1,1929.9 499.2,1932.8 500.1,1935.5 C501.1,1938.2 501.8,1940.5 502.9,1942.8 C504.0,1945.1 505.4,1947.1 506.6,1949.3 C507.8,1951.5 508.9,1953.8 510.2,1955.8 C511.5,1957.8 513.1,1959.7 514.5,1961.5 C515.9,1963.3 517.2,1965.0 518.8,1966.6 C520.4,1968.2 522.1,1969.7 523.9,1970.9 C525.7,1972.1 527.3,1973.1 529.7,1973.8 C532.1,1974.5 534.4,1974.7 538.3,1974.9 C542.1,1975.1 548.0,1975.0 552.8,1974.9 C557.6,1974.8 563.0,1974.8 567.2,1974.5 C571.4,1974.2 575.0,1973.9 578.0,1973.4 C581.0,1972.9 583.0,1972.4 585.3,1971.6 C587.6,1970.8 589.8,1969.5 591.8,1968.5 C593.8,1967.5 594.9,1967.0 597.0,1965.5 C599.1,1964.0 601.5,1962.0 604.2,1959.6 C606.9,1957.2 610.3,1954.2 613.4,1951.3 C616.5,1948.4 619.5,1945.5 622.6,1942.1 C625.7,1938.7 628.7,1934.8 631.8,1931.0 C634.9,1927.2 637.9,1923.4 641.0,1919.1 C644.1,1914.8 647.1,1910.0 650.2,1905.2 C653.3,1900.4 656.6,1895.2 659.5,1890.5 C662.4,1885.8 664.9,1882.2 667.8,1877.2 C670.7,1872.2 673.8,1866.3 676.7,1860.8 C679.6,1855.3 682.2,1849.6 685.0,1844.2 C687.8,1838.8 690.5,1833.5 693.3,1828.3 C696.1,1823.1 698.9,1818.0 701.7,1813.3 C704.5,1808.6 707.2,1804.3 710.0,1800.0 C712.8,1795.7 715.5,1791.7 718.3,1787.5 C721.1,1783.3 723.9,1779.5 726.7,1775.0 C729.5,1770.5 732.2,1765.5 735.0,1760.8 C737.8,1756.1 740.5,1751.1 743.3,1746.7 C746.1,1742.3 748.9,1738.4 751.7,1734.2 C754.5,1730.0 757.2,1725.9 760.0,1721.7 C762.8,1717.5 766.3,1712.0 768.3,1709.2 C770.3,1706.4 770.1,1707.0 772.1,1705.0 C774.1,1703.0 777.4,1700.1 780.5,1697.2 C783.6,1694.3 787.5,1690.6 791.0,1687.8 C794.5,1685.0 798.0,1682.4 801.5,1680.4 C805.0,1678.4 808.5,1676.8 812.0,1675.7 C815.5,1674.7 818.1,1674.4 822.5,1674.1 C826.9,1673.8 833.0,1673.8 838.2,1673.6 C843.5,1673.4 849.6,1673.5 854.0,1673.1 C858.4,1672.7 861.4,1671.8 864.5,1671.0 C867.6,1670.2 870.3,1669.2 872.9,1668.4 C875.5,1667.6 877.2,1666.7 880.2,1666.3 C883.2,1665.9 887.6,1665.9 890.7,1666.0 C893.9,1666.1 896.7,1666.2 899.1,1666.8 C901.5,1667.4 903.3,1668.2 905.4,1669.4 C907.5,1670.6 909.6,1672.1 911.7,1674.1 C913.9,1676.1 916.1,1678.8 918.3,1681.2 C920.5,1683.6 922.9,1685.8 925.0,1688.5 C927.1,1691.2 928.8,1694.5 930.8,1697.5 C932.8,1700.5 934.9,1703.5 936.7,1706.7 C938.5,1709.9 940.0,1713.1 941.7,1716.7 C943.4,1720.3 945.0,1724.4 946.7,1728.3 C948.4,1732.2 950.0,1736.2 951.7,1740.0 C953.4,1743.8 955.0,1747.0 956.7,1750.8 C958.4,1754.5 960.0,1758.6 961.7,1762.5 C963.4,1766.4 965.0,1770.3 966.7,1774.2 C968.4,1778.1 970.0,1781.9 971.7,1785.8 C973.4,1789.7 975.0,1793.8 976.7,1797.5 C978.4,1801.2 980.0,1804.5 981.7,1808.3 C983.4,1812.0 985.0,1816.4 986.7,1820.0 C988.4,1823.6 990.0,1826.6 991.7,1830.0 C993.4,1833.4 994.9,1836.4 996.7,1840.5 C998.5,1844.6 1000.6,1849.9 1002.6,1854.4 C1004.6,1858.9 1006.8,1863.1 1008.8,1867.5 C1010.8,1871.9 1012.8,1876.3 1014.9,1880.7 C1017.0,1885.1 1018.9,1889.5 1021.1,1893.9 C1023.3,1898.3 1025.9,1902.6 1028.1,1907.0 C1030.3,1911.4 1032.0,1915.8 1034.2,1920.2 C1036.4,1924.6 1038.9,1928.9 1041.2,1933.3 C1043.5,1937.7 1045.9,1942.1 1048.2,1946.5 C1050.5,1950.9 1052.8,1955.2 1055.3,1959.6 C1057.8,1964.0 1060.6,1968.4 1063.2,1972.8 C1065.8,1977.2 1068.5,1981.6 1071.1,1986.0 C1073.7,1990.4 1076.1,1994.7 1078.9,1999.1 C1081.7,2003.5 1084.8,2008.2 1087.7,2012.3 C1090.6,2016.4 1093.6,2020.0 1096.5,2023.7 C1099.4,2027.4 1102.4,2030.8 1105.3,2034.2 C1108.2,2037.6 1109.7,2039.6 1114.0,2043.9 C1118.3,2048.2 1124.5,2054.7 1130.9,2059.8 C1137.3,2064.9 1144.5,2070.2 1152.2,2074.3 C1159.9,2078.4 1168.7,2081.7 1176.9,2084.1 C1185.1,2086.5 1192.7,2087.8 1201.5,2089.0 C1210.3,2090.2 1213.6,2090.8 1230.0,2091.3 C1246.4,2091.8 1267.7,2092.0 1300.0,2092.2 C1332.3,2092.4 1403.3,2092.5 1424.0,2092.6" fill="none" stroke="#262626" stroke-width="2.6" stroke-linejoin="round" stroke-linecap="round"/>
<rect x="107.4" y="1198.0" width="1318.8" height="940.2" fill="none" stroke="#242424" stroke-width="4.6"/>
<path d="M227.3,2138.2V2114.2 M467.0,2138.2V2114.2 M706.6,2138.2V2114.2 M946.2,2138.2V2114.2 M1185.9,2138.2V2114.2" stroke="#242424" stroke-width="3.2" fill="none"/>
<path d="M131.4,2138.2V2125.2 M179.4,2138.2V2125.2 M275.2,2138.2V2125.2 M323.2,2138.2V2125.2 M371.1,2138.2V2125.2 M419.0,2138.2V2125.2 M514.9,2138.2V2125.2 M562.8,2138.2V2125.2 M610.7,2138.2V2125.2 M658.7,2138.2V2125.2 M754.5,2138.2V2125.2 M802.5,2138.2V2125.2 M850.4,2138.2V2125.2 M898.3,2138.2V2125.2 M994.2,2138.2V2125.2 M1042.1,2138.2V2125.2 M1090.0,2138.2V2125.2 M1138.0,2138.2V2125.2 M1233.8,2138.2V2125.2 M1281.8,2138.2V2125.2 M1329.7,2138.2V2125.2 M1377.6,2138.2V2125.2" stroke="#333" stroke-width="2.4" fill="none"/>
<text x="0.0" y="0.0" class="tl" text-anchor="middle" transform="translate(227.6,2193.0) scale(1,1.040) translate(0.0,0.0)">300</text>
<text x="0.0" y="0.0" class="tl" text-anchor="middle" transform="translate(467.3,2193.0) scale(1,1.040) translate(0.0,0.0)">400</text>
<text x="0.0" y="0.0" class="tl" text-anchor="middle" transform="translate(706.9,2193.0) scale(1,1.040) translate(0.0,0.0)">500</text>
<text x="0.0" y="0.0" class="tl" text-anchor="middle" transform="translate(946.5,2193.0) scale(1,1.040) translate(0.0,0.0)">600</text>
<text x="0.0" y="0.0" class="tl" text-anchor="middle" transform="translate(1186.2,2193.0) scale(1,1.040) translate(0.0,0.0)">700</text>
<text x="0.0" y="0.0" class="tl" text-anchor="middle" transform="translate(1425.8,2193.0) scale(1,1.040) translate(0.0,0.0)">800</text>
<text class="at" text-anchor="middle" transform="translate(811.5,2246.8) scale(1,1.045)">wavelength (nm)</text>
<text class="yl" text-anchor="middle" transform="translate(70.7,1638.0) rotate(-90)">absorption (au)</text>
<text class="yl" text-anchor="middle" style="font-size:56.6px" transform="translate(1491.9,1641.5) rotate(-90)">emission (au)</text>
<text class="s" transform="translate(760.6,1617.4) scale(0.950,1.055)">S</text>
<text class="sub" transform="translate(796.8,1628.6) scale(1,1.000)">0</text>
<text class="ar" transform="translate(829.6,1629.8) scale(0.825,1)">&#8594;</text>
<text class="s" transform="translate(902.3,1617.4) scale(0.950,1.055)">S</text>
<text class="sub" clip-path="url(#clip1)" stroke="#fff" stroke-width="1.1" transform="translate(939.4,1628.6) scale(1,1.000)">1</text>
<text class="s" transform="translate(343.6,1818.3) scale(0.950,1.055)">S</text>
<text class="sub" transform="translate(379.0,1827.8) scale(1,1.000)">0</text>
<text class="ar" transform="translate(411.3,1828.9) scale(0.825,1)">&#8594;</text>
<text class="s" transform="translate(485.5,1818.3) scale(0.950,1.055)">S</text>
<text class="sub" transform="translate(521.5,1827.8) scale(1,1.000)">2</text>
</svg>
</body></html>
